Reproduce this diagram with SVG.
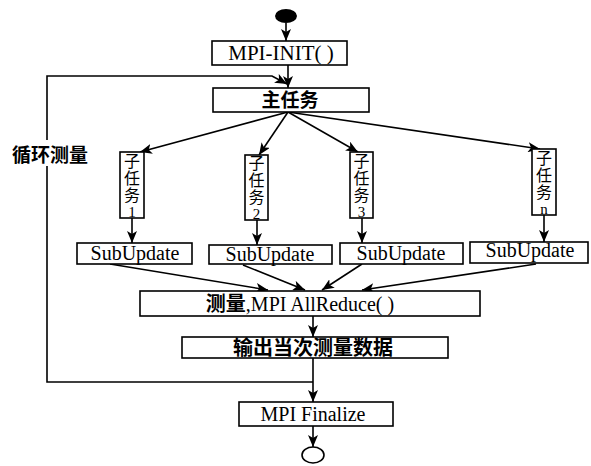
<svg xmlns="http://www.w3.org/2000/svg" width="591" height="466" viewBox="0 0 591 466">
<defs>
<marker id="ah" markerUnits="userSpaceOnUse" markerWidth="12" markerHeight="10" refX="12" refY="5" orient="auto">
<path d="M0,0 L12,5 L0,10 L3,5 z" fill="#000"/>
</marker>
<style>
.box{fill:#fff;stroke:#000;stroke-width:1.6}
.ln{fill:none;stroke:#000;stroke-width:1.6}
.arr{fill:none;stroke:#000;stroke-width:1.6;marker-end:url(#ah)}
.lat{font-family:"Liberation Serif","Times New Roman",serif;font-size:20px;fill:#000;text-anchor:middle}
.cjk{font-family:"Noto Sans CJK SC","Noto Sans CJK TC",sans-serif;font-size:19px;font-weight:bold;fill:#000;text-anchor:middle}
.vc{font-family:"Noto Sans CJK SC","Noto Sans CJK TC",sans-serif;font-size:16px;fill:#000;writing-mode:vertical-rl;text-orientation:upright;letter-spacing:1px}
.dg{font-family:"Liberation Serif","Times New Roman",serif;font-size:15px}
</style>
</defs>
<g id="connectors">
<path class="arr" d="M286,23 V41"/>
<path class="arr" d="M288,65 V88"/>
<path class="arr" d="M47,140 V76 H272 L287,84"/>
<path class="ln" d="M47,166 V382 H313"/>
<path class="arr" d="M288,112 L140,152"/>
<path class="arr" d="M288,112 L259,155"/>
<path class="arr" d="M288,112 L358,152"/>
<path class="arr" d="M288,112 L540,149"/>
<path class="arr" d="M132,218 V243"/>
<path class="arr" d="M257,220 V245"/>
<path class="arr" d="M362,218 V243"/>
<path class="arr" d="M544,215 V242"/>
<path class="arr" d="M110,264 L268,290"/>
<path class="arr" d="M243,265 L305,290"/>
<path class="arr" d="M362,264 L322,290"/>
<path class="arr" d="M536,264 L362,290"/>
<path class="arr" d="M313,316 V337"/>
<path class="arr" d="M313,358 V402"/>
<path class="arr" d="M313,426 V447"/>
</g>
<g id="start"><ellipse cx="286" cy="16" rx="11" ry="7" fill="#000"/></g>
<g id="mpi-init"><rect class="box" x="212" y="41" width="135" height="24"/><text class="lat" x="281" y="60" style="font-size:21px">MPI-INIT( )</text></g>
<g id="main-task"><rect class="box" x="213" y="88" width="156" height="24"/><text class="cjk" x="290" y="107">主任务</text></g>
<g id="loop-label"><text class="cjk" x="50" y="162">循环测量</text></g>
<g id="sub1"><rect class="box" x="120" y="152" width="24" height="66"/>
<text class="vc" x="132" y="153">子任务<tspan class="dg">1</tspan></text></g>
<g id="sub2"><rect class="box" x="245" y="155" width="23" height="65"/>
<text class="vc" x="256.5" y="155">子任务<tspan class="dg">2</tspan></text></g>
<g id="sub3"><rect class="box" x="350" y="152" width="23" height="66"/>
<text class="vc" x="361.5" y="153">子任务<tspan class="dg">3</tspan></text></g>
<g id="subn"><rect class="box" x="532" y="149" width="24" height="66"/>
<text class="vc" x="544" y="150">子任务<tspan class="dg">n</tspan></text></g>
<g id="upd1"><rect class="box" x="77" y="243" width="115" height="21"/><text class="lat" x="135" y="260">SubUpdate</text></g>
<g id="upd2"><rect class="box" x="209" y="245" width="123" height="19"/><text class="lat" x="270" y="261">SubUpdate</text></g>
<g id="upd3"><rect class="box" x="340" y="243" width="123" height="21"/><text class="lat" x="401" y="260">SubUpdate</text></g>
<g id="updn"><rect class="box" x="470" y="242" width="118" height="21"/><text class="lat" x="530" y="257">SubUpdate</text></g>
<g id="allreduce"><rect class="box" x="140" y="291" width="340" height="25"/><text class="lat" x="300" y="311"><tspan class="cjk" style="font-size:20px">测量</tspan>,MPI AllReduce( )</text></g>
<g id="output"><rect class="box" x="182" y="337" width="266" height="21"/><text class="cjk" x="313" y="355" style="font-size:20px">输出当次测量数据</text></g>
<g id="finalize"><rect class="box" x="239" y="402" width="154" height="24"/><text class="lat" x="313" y="421">MPI Finalize</text></g>
<g id="end"><ellipse cx="313" cy="455" rx="11" ry="8" fill="#fff" stroke="#000" stroke-width="1.6"/></g>
</svg>
